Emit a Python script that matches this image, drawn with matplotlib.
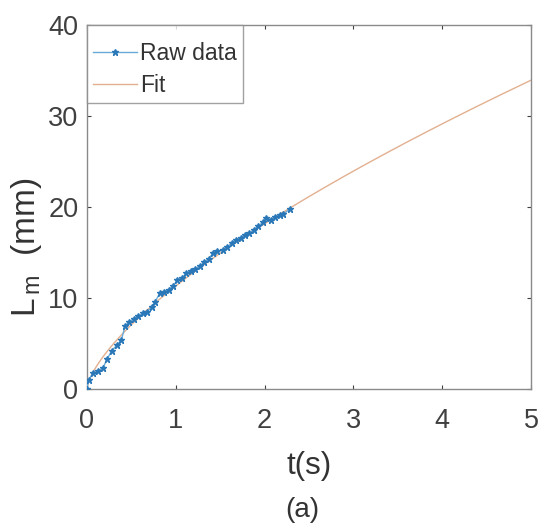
import matplotlib
matplotlib.use("Agg")
import matplotlib.pyplot as plt
import numpy as np

plt.rcParams['font.family'] = ['Liberation Sans', 'DejaVu Sans']
plt.rcParams['mathtext.default'] = 'regular'

t_raw = [0, 0.02, 0.07, 0.13, 0.18, 0.23, 0.28, 0.34, 0.39, 0.43, 0.48, 0.53, 0.58,
         0.63, 0.68, 0.73, 0.77, 0.82, 0.87, 0.92, 0.97, 1.02, 1.07, 1.12, 1.17,
         1.22, 1.27, 1.32, 1.37, 1.42, 1.47, 1.53, 1.58, 1.63, 1.68, 1.73, 1.78,
         1.83, 1.88, 1.93, 1.98, 2.02, 2.07, 2.12, 2.17, 2.21, 2.29]
L_raw = [0, 1.0, 1.7, 2.0, 2.3, 3.3, 4.2, 4.8, 5.4, 6.9, 7.4, 7.7, 8.0,
         8.3, 8.5, 9.0, 9.6, 10.5, 10.7, 10.9, 11.3, 12.0, 12.2, 12.7, 13.0,
         13.2, 13.5, 13.9, 14.3, 14.9, 15.1, 15.3, 15.6, 16.0, 16.4, 16.6, 16.9,
         17.1, 17.5, 17.9, 18.3, 18.8, 18.6, 18.9, 19.1, 19.2, 19.8]

# power-law fit parameters L = a * t^b
fit_a = 11.3
fit_b = 0.683
t_fit = np.linspace(0, 5, 300)
L_fit = fit_a * t_fit ** fit_b

xticks = [0, 1, 2, 3, 4, 5]
yticks = [0, 10, 20, 30, 40]

fig = plt.figure(figsize=(5.46, 5.27), dpi=100)
ax = fig.add_axes([0.159, 0.262, 0.814, 0.691])

ax.plot(t_raw, L_raw, color='#6aaad6', lw=1.0, marker='*', ms=4.5,
        markeredgecolor='#2a78b8', markerfacecolor='#2a78b8', label='Raw data', zorder=3)
ax.plot(t_fit, L_fit, color='#e2b090', lw=1.0, label='Fit', zorder=2)

ax.set_xlim(0, 5)
ax.set_ylim(0, 40)
ax.set_xticks(xticks)
ax.set_yticks(yticks)
ax.tick_params(direction='in', length=3, labelsize=19.5, colors='#404040',
               top=True, right=True, labeltop=False, labelright=False)
ax.tick_params(axis='x', pad=14)
ax.tick_params(axis='y', pad=6)
for s in ax.spines.values():
    s.set_color('#8a8a8a')
    s.set_linewidth(1.0)

ax.set_xlabel('t(s)', fontsize=22.5, color='#333333', labelpad=12)
ax.set_ylabel(r'L$_{\,m}$  (mm)', fontsize=24, color='#333333')
ax.yaxis.set_label_coords(-0.097, 0.39)
fig.text(0.553, 0.019, '(a)', fontsize=20, color='#333333', ha='center', va='baseline')

leg = ax.legend(loc='upper left', fontsize=16.5, frameon=True, fancybox=False,
                edgecolor='#8a8a8a', borderaxespad=0.0, handlelength=1.9,
                handletextpad=0.15, borderpad=0.28, labelspacing=0.41,
                title=' ', title_fontsize=1)
leg.get_frame().set_linewidth(1.0)
for txt in leg.get_texts():
    txt.set_color('#333333')

fig.savefig('out.png', dpi=100)
